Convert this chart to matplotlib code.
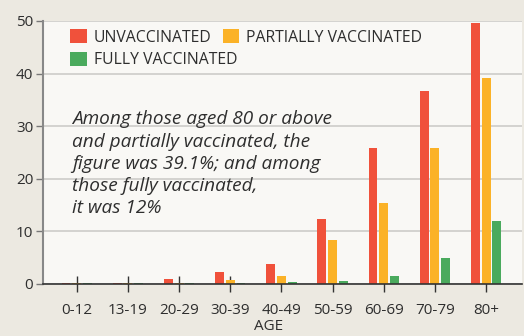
import matplotlib.pyplot as plt
import numpy as np

# Share of deaths (%) by age group and vaccination status
age_groups = ['0-12', '13-19', '20-29', '30-39', '40-49', '50-59', '60-69', '70-79', '80+']
unvaccinated = [0.1, 0.1, 1.0, 2.2, 3.7, 12.3, 25.9, 36.6, 49.7]
partially = [0.1, 0.1, 0.2, 0.8, 1.6, 8.4, 15.4, 25.8, 39.1]
fully = [0.1, 0.1, 0.1, 0.1, 0.3, 0.6, 1.6, 4.9, 12.0]

RED = '#F0513B'
ORANGE = '#FBB227'
GREEN = '#4AAA5D'
TEXT = '#2E2E2E'

plt.rcParams['font.family'] = ['Open Sans', 'DejaVu Sans']

fig = plt.figure(figsize=(5.24, 3.36), dpi=100)
fig.patch.set_facecolor('#ECE9E1')
ax = fig.add_axes([0.082, 0.155, 0.914, 0.7825])
ax.set_facecolor('#F9F8F5')

x = np.arange(len(age_groups))
off = 0.21
w = 0.175
b1 = ax.bar(x - off, unvaccinated, w, color=RED, zorder=3)
b2 = ax.bar(x, partially, w, color=ORANGE, zorder=3)
b3 = ax.bar(x + off, fully, w, color=GREEN, zorder=3)

ax.set_xlim(-0.66, 8.7)
ax.set_ylim(0, 50)
ax.set_yticks([0, 10, 20, 30, 40, 50])
ax.grid(axis='y', color='#C9C9C6', linewidth=1.1, zorder=0)

ax.set_xticks(x)
ax.set_xticklabels(age_groups)
ax.tick_params(axis='x', direction='inout', length=12, width=1, color='#333333',
               labelsize=11, labelcolor=TEXT, pad=8)
ax.tick_params(axis='y', direction='out', length=5, width=1, color='#777777',
               labelsize=11, labelcolor=TEXT, pad=2)

for side in ['top', 'right']:
    ax.spines[side].set_visible(False)
ax.spines['left'].set_color('#888888')
ax.spines['left'].set_linewidth(1.5)
ax.spines['bottom'].set_color('#333333')
ax.spines['bottom'].set_linewidth(1.2)
ax.spines['bottom'].set_zorder(4)

ax.set_xlabel('AGE', fontsize=11, color=TEXT)
ax.xaxis.set_label_coords(0.47, -0.135)

# legend: two entries on the first row, one on the second
leg_kw = dict(loc='upper left', frameon=False, fontsize=11.3, labelcolor=TEXT,
              handlelength=1.05, handleheight=0.95, handletextpad=0.45,
              borderaxespad=0, borderpad=0)
leg1 = ax.legend([b1, b2], ['UNVACCINATED', 'PARTIALLY VACCINATED'], ncol=2,
                 columnspacing=0.7, bbox_to_anchor=(0.057, 0.968), **leg_kw)
ax.add_artist(leg1)
ax.legend([b3], ['FULLY VACCINATED'], bbox_to_anchor=(0.057, 0.882), **leg_kw)

ax.text(0.061, 0.66,
        'Among those aged 80 or above\nand partially vaccinated, the\n'
        'figure was 39.1%; and among\nthose fully vaccinated,\nit was 12%',
        transform=ax.transAxes, fontsize=13.7, style='italic', color=TEXT,
        va='top', ha='left', linespacing=1.3)

fig.savefig('out.png', dpi=100, facecolor=fig.get_facecolor())
